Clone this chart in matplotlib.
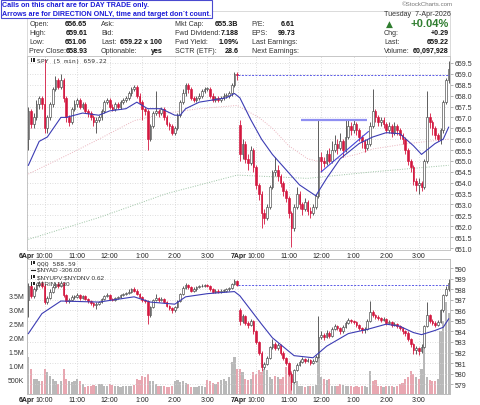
"""StockCharts-style intraday chart: SPY and QQQ 5-minute bars, 6-7 Apr."""
import matplotlib

matplotlib.use("Agg")
import matplotlib.pyplot as plt
import numpy as np
from matplotlib.patches import Rectangle

W, H = 480, 406
RED = "#d3173f"
MA_BLUE = "#3c3cb4"
GRID = "#d2d2d2"

# ---- SPY 5-min bars (index 0-77 = 6 Apr, 78-155 = 7 Apr) ----
spy_open = [
    656.0, 657.3, 656.7, 657.0, 657.6, 657.9, 657.6, 656.5, 657.0, 657.6, 658.3, 658.7, 658.4,
    658.7, 657.9, 657.0, 656.8, 657.4, 657.6, 657.8, 657.5, 657.6, 657.3, 657.2, 657.0, 656.8,
    656.9, 657.0, 657.3, 657.7, 657.8, 657.5, 657.4, 657.6, 657.5, 657.7, 657.8, 657.9, 658.1,
    658.3, 658.4, 658.0, 657.7, 657.4, 657.3, 656.0, 656.6, 657.2, 657.3, 657.2, 657.4, 657.0,
    656.7, 656.6, 656.3, 656.5, 657.1, 657.7, 658.1, 658.5, 658.3, 657.9, 657.8, 657.9, 658.0,
    658.2, 658.3, 658.3, 658.0, 657.8, 657.9, 657.8, 657.9, 658.0, 658.0, 658.1, 658.5, 659.0,
    656.65, 655.3, 655.8, 655.1, 654.9, 655.5, 654.7, 653.9, 653.5, 652.6, 652.4, 652.9, 653.8,
    654.5, 654.6, 654.3, 654.0, 653.6, 653.3, 652.6, 651.9, 652.9, 653.5, 653.0, 652.8, 653.1,
    652.7, 652.6, 652.9, 653.4, 655.2, 655.0, 654.9, 655.3, 655.0, 655.5, 655.8, 655.6, 655.9,
    655.5, 656.1, 656.6, 656.4, 656.7, 656.4, 656.1, 655.9, 655.6, 655.8, 656.6, 657.3, 657.0,
    656.8, 656.9, 656.7, 656.4, 656.6, 656.3, 656.6, 656.4, 656.2, 656.0, 655.5, 655.0, 654.7,
    654.1, 653.9, 654.0, 653.8, 655.0, 657.0, 656.8, 656.5, 656.2, 656.0, 656.4, 657.7, 658.7,
]
spy_high = [
    657.5, 657.4, 657.2, 657.8, 658.0, 658.0, 659.7, 657.1, 657.7, 658.4, 658.9, 658.8, 659.0,
    658.8, 658.0, 657.1, 657.5, 657.8, 657.9, 657.9, 657.7, 657.7, 657.4, 657.3, 657.1, 657.0,
    657.1, 657.4, 657.8, 657.9, 657.9, 657.6, 657.7, 657.7, 657.8, 657.9, 658.0, 658.2, 658.4,
    658.5, 658.5, 658.1, 657.8, 657.5, 657.4, 656.7, 657.3, 658.2, 657.4, 657.5, 657.5, 657.1,
    656.8, 656.7, 656.6, 657.2, 657.8, 658.3, 658.6, 658.6, 658.4, 658.0, 658.0, 658.1, 658.3,
    658.4, 658.4, 658.4, 658.1, 658.0, 658.0, 658.0, 658.1, 658.1, 658.2, 658.6, 659.1, 659.1,
    656.9, 656.0, 655.9, 655.3, 655.7, 655.6, 654.8, 654.0, 653.6, 652.8, 653.0, 653.9, 654.6,
    655.2, 654.8, 654.4, 654.1, 653.7, 653.4, 652.7, 653.0, 653.8, 653.6, 653.1, 653.3, 653.2,
    652.9, 653.0, 653.5, 656.9, 655.4, 655.2, 655.5, 655.6, 655.9, 656.2, 656.0, 656.3, 656.0,
    656.9, 656.9, 656.8, 656.9, 656.8, 656.5, 656.2, 656.0, 656.0, 656.8, 658.3, 657.4, 657.1,
    657.0, 657.0, 656.8, 656.8, 656.7, 656.8, 656.7, 656.5, 656.3, 656.1, 655.6, 655.1, 654.8,
    654.2, 654.2, 654.1, 655.1, 658.2, 657.2, 656.9, 656.6, 656.3, 656.5, 657.8, 658.8, 659.61,
]
spy_low = [
    655.5, 656.5, 656.5, 656.9, 657.4, 657.4, 656.3, 656.3, 656.9, 657.5, 658.2, 658.3, 658.3,
    657.7, 656.8, 656.6, 656.7, 657.3, 657.5, 657.4, 657.4, 657.2, 657.0, 656.9, 656.6, 656.3,
    656.8, 656.9, 657.2, 657.6, 657.4, 657.3, 657.3, 657.4, 657.4, 657.6, 657.7, 657.8, 658.0,
    658.2, 657.9, 657.6, 656.9, 657.1, 655.5, 655.9, 656.5, 657.1, 657.0, 657.1, 656.9, 656.6,
    656.4, 656.2, 656.2, 656.4, 657.0, 657.6, 658.0, 658.1, 657.8, 657.7, 657.7, 657.8, 657.9,
    658.1, 658.2, 657.9, 657.7, 657.7, 657.7, 657.7, 657.8, 657.9, 657.9, 658.0, 658.4, 658.7,
    655.0, 655.1, 654.9, 654.6, 654.8, 654.5, 653.7, 653.2, 651.9, 652.1, 652.3, 652.8, 653.7,
    654.3, 654.1, 653.8, 653.4, 653.1, 652.4, 651.06, 651.8, 652.8, 652.8, 652.5, 652.7, 652.5,
    652.4, 652.5, 652.8, 653.3, 654.5, 654.7, 654.8, 654.9, 654.9, 655.4, 655.3, 655.5, 655.2,
    655.4, 656.0, 656.2, 656.3, 656.2, 655.9, 655.6, 655.4, 655.5, 655.7, 656.5, 656.8, 656.6,
    656.6, 656.5, 656.3, 656.3, 656.1, 656.2, 656.2, 656.0, 655.8, 655.3, 654.8, 654.5, 653.9,
    653.6, 653.5, 653.6, 653.7, 654.9, 656.5, 656.2, 656.0, 655.9, 655.8, 656.3, 657.6, 658.6,
]
spy_close = [
    657.3, 656.7, 657.0, 657.6, 657.9, 657.6, 656.5, 657.0, 657.6, 658.3, 658.7, 658.4, 658.7,
    657.9, 657.0, 656.8, 657.4, 657.6, 657.8, 657.5, 657.6, 657.3, 657.2, 657.0, 656.8, 656.9,
    657.0, 657.3, 657.7, 657.8, 657.5, 657.4, 657.6, 657.5, 657.7, 657.8, 657.9, 658.1, 658.3,
    658.4, 658.0, 657.7, 657.4, 657.3, 656.0, 656.6, 657.2, 657.3, 657.2, 657.4, 657.0, 656.7,
    656.6, 656.3, 656.5, 657.1, 657.7, 658.1, 658.5, 658.3, 657.9, 657.8, 657.9, 658.0, 658.2,
    658.3, 658.3, 658.0, 657.8, 657.9, 657.8, 657.9, 658.0, 658.0, 658.1, 658.5, 659.0, 658.93,
    655.3, 655.8, 655.1, 654.9, 655.5, 654.7, 653.9, 653.5, 652.6, 652.4, 652.9, 653.8, 654.5,
    654.6, 654.3, 654.0, 653.6, 653.3, 652.6, 651.9, 652.9, 653.5, 653.0, 652.8, 653.1, 652.7,
    652.6, 652.9, 653.4, 655.2, 655.0, 654.9, 655.3, 655.0, 655.5, 655.8, 655.6, 655.9, 655.5,
    656.1, 656.6, 656.4, 656.7, 656.4, 656.1, 655.9, 655.6, 655.8, 656.6, 657.3, 657.0, 656.8,
    656.9, 656.7, 656.4, 656.6, 656.3, 656.6, 656.4, 656.2, 656.0, 655.5, 655.0, 654.7, 654.1,
    653.9, 654.0, 653.8, 655.0, 657.0, 656.8, 656.5, 656.2, 656.0, 656.4, 657.7, 658.7, 659.22,
]
# overlays at a few bars
spy_ma_idx = [0, 4, 7, 12, 14, 20, 26, 30, 36, 40, 44, 49, 54, 56, 58, 63, 68, 73, 76,
              78, 82, 86, 90, 95, 100, 106, 110, 115, 122, 127, 132, 137, 142, 145, 150, 153, 155]
spy_ma = [654.8, 655.9, 656.1, 657.0, 657.0, 657.2, 657.1, 657.3, 657.4, 657.7, 657.4, 657.4,
          657.1, 657.1, 657.4, 657.7, 657.8, 657.9, 658.1,
          657.9, 656.9, 656.0, 655.3, 654.6, 653.9, 653.4, 654.2, 655.1, 655.8, 656.1, 656.3,
          656.25, 655.7, 655.3, 655.8, 656.0, 656.55]
spy_ma2_idx = [0, 14, 26, 39, 51, 63, 77, 85, 90, 96, 103, 108, 112, 121, 127, 140, 155]
spy_ma2 = [654.4, 655.25, 656.0, 656.85, 657.2, 657.4, 657.55, 657.0, 656.5, 655.7, 655.1,
           654.95, 655.05, 655.3, 655.55, 655.8, 656.0]
spy_ma3_idx = [0, 26, 51, 77, 103, 127, 155]
spy_ma3 = [651.4, 652.4, 653.5, 654.35, 654.2, 654.5, 654.8]
spy_prev_close = 658.93
resist_x, resist_y = [100.6, 125.0], [656.9, 656.9]
trend_x, trend_y = [108.0, 125.4], [654.5, 656.35]

# ---- QQQ 5-min bars + volume (millions) ----
qqq_open = [
    587.0, 588.3, 587.4, 588.0, 588.4, 588.6, 588.3, 586.8, 587.2, 587.8, 588.2, 588.5, 588.3,
    588.6, 587.5, 586.9, 587.0, 587.3, 587.3, 587.5, 587.2, 587.4, 587.1, 586.9, 586.7, 586.5,
    586.6, 586.8, 587.1, 587.4, 587.5, 587.1, 587.0, 587.2, 587.3, 587.5, 587.6, 587.7, 587.8,
    588.0, 587.9, 587.6, 587.3, 587.0, 586.9, 585.6, 586.3, 587.0, 587.2, 587.0, 587.1, 586.8,
    586.4, 586.2, 586.0, 586.3, 586.9, 587.6, 588.1, 588.4, 588.2, 587.9, 588.0, 588.2, 588.3,
    588.3, 588.4, 588.3, 588.0, 587.8, 587.9, 587.8, 587.9, 587.9, 588.0, 588.1, 588.5, 588.8,
    586.0, 585.0, 585.5, 584.8, 584.6, 585.0, 584.0, 583.0, 582.0, 580.6, 580.9, 581.5, 582.5,
    582.8, 582.4, 582.7, 582.0, 581.5, 581.0, 580.0, 579.2, 580.3, 580.8, 581.1, 581.4, 581.2,
    581.3, 581.0, 581.2, 581.6, 583.5, 583.7, 583.5, 583.9, 583.6, 584.2, 584.5, 584.3, 584.0,
    584.4, 584.8, 585.1, 585.0, 584.9, 584.6, 584.3, 584.1, 584.2, 585.0, 585.9, 585.6, 585.4,
    585.3, 585.1, 585.2, 584.8, 584.9, 584.6, 584.7, 584.5, 584.3, 584.0, 583.9, 583.3, 582.8,
    582.2, 582.4, 582.1, 582.5, 584.5, 585.6, 585.0, 584.8, 584.6, 584.9, 586.0, 587.5, 588.0,
]
qqq_high = [
    588.6, 588.5, 588.2, 588.6, 588.8, 588.8, 588.5, 587.4, 588.0, 588.4, 588.7, 588.7, 588.8,
    588.7, 587.6, 587.2, 587.5, 587.5, 587.7, 587.6, 587.5, 587.5, 587.2, 587.0, 586.8, 586.8,
    586.9, 587.2, 587.5, 587.7, 587.6, 587.2, 587.3, 587.4, 587.6, 587.7, 587.8, 588.0, 588.1,
    588.2, 588.0, 587.7, 587.4, 587.1, 587.0, 586.4, 587.1, 587.6, 587.3, 587.3, 587.2, 586.9,
    586.5, 586.3, 586.4, 587.0, 587.7, 588.3, 588.6, 588.5, 588.3, 588.2, 588.3, 588.4, 588.5,
    588.5, 588.5, 588.4, 588.1, 588.0, 588.0, 588.0, 588.0, 588.1, 588.2, 588.6, 589.0, 588.9,
    586.2, 585.7, 585.6, 585.0, 585.2, 585.1, 584.1, 583.1, 582.1, 581.1, 581.7, 582.6, 583.3,
    583.0, 582.9, 582.8, 582.1, 581.6, 581.1, 580.1, 580.4, 581.0, 581.3, 581.6, 581.5, 581.5,
    581.4, 581.4, 581.8, 585.5, 584.0, 583.9, 584.1, 584.0, 584.4, 584.7, 584.6, 584.4, 584.6,
    585.0, 585.3, 585.2, 585.1, 585.0, 584.7, 584.4, 584.4, 585.2, 586.9, 586.0, 585.7, 585.6,
    585.4, 585.4, 585.3, 585.1, 585.0, 584.9, 584.8, 584.6, 584.4, 584.1, 584.0, 583.4, 582.9,
    582.6, 582.5, 582.8, 584.6, 586.8, 585.7, 585.2, 585.0, 585.1, 586.1, 587.6, 588.3, 589.0,
]
qqq_low = [
    585.4, 587.2, 587.2, 587.9, 588.2, 588.1, 586.6, 586.6, 587.1, 587.7, 588.1, 588.1, 588.2,
    587.3, 586.7, 586.7, 586.9, 587.1, 587.2, 587.0, 587.1, 587.0, 586.7, 586.5, 586.3, 586.1,
    586.5, 586.7, 587.0, 587.3, 587.0, 586.9, 586.9, 587.1, 587.2, 587.4, 587.5, 587.6, 587.7,
    587.8, 587.5, 587.2, 586.8, 586.7, 584.7, 585.4, 586.2, 586.9, 586.8, 586.9, 586.7, 586.3,
    586.0, 585.8, 585.9, 586.2, 586.8, 587.5, 588.0, 588.0, 587.8, 587.8, 587.9, 588.1, 588.2,
    588.2, 588.2, 587.9, 587.7, 587.7, 587.7, 587.7, 587.8, 587.8, 587.9, 588.0, 588.4, 588.3,
    584.6, 584.8, 584.6, 584.3, 584.5, 583.8, 582.8, 581.8, 580.2, 580.4, 580.8, 581.4, 582.3,
    582.2, 582.2, 581.8, 581.3, 580.8, 579.8, 578.4, 579.1, 580.2, 580.7, 581.0, 581.0, 581.1,
    580.8, 580.9, 581.1, 581.5, 583.3, 583.2, 583.4, 583.4, 583.5, 584.1, 584.1, 583.8, 583.9,
    584.3, 584.7, 584.8, 584.7, 584.4, 584.1, 583.9, 583.9, 584.1, 584.9, 585.4, 585.2, 585.1,
    584.9, 585.0, 584.6, 584.7, 584.4, 584.5, 584.3, 584.1, 583.8, 583.6, 583.1, 582.5, 581.9,
    581.9, 581.8, 582.0, 582.4, 584.4, 584.8, 584.6, 584.4, 584.5, 584.8, 585.9, 587.4, 587.9,
]
qqq_close = [
    588.3, 587.4, 588.0, 588.4, 588.6, 588.3, 586.8, 587.2, 587.8, 588.2, 588.5, 588.3, 588.6,
    587.5, 586.9, 587.0, 587.3, 587.3, 587.5, 587.2, 587.4, 587.1, 586.9, 586.7, 586.5, 586.6,
    586.8, 587.1, 587.4, 587.5, 587.1, 587.0, 587.2, 587.3, 587.5, 587.6, 587.7, 587.8, 588.0,
    587.9, 587.6, 587.3, 587.0, 586.9, 585.6, 586.3, 587.0, 587.2, 587.0, 587.1, 586.8, 586.4,
    586.2, 586.0, 586.3, 586.9, 587.6, 588.1, 588.4, 588.2, 587.9, 588.0, 588.2, 588.3, 588.3,
    588.4, 588.3, 588.0, 587.8, 587.9, 587.8, 587.9, 587.9, 588.0, 588.1, 588.5, 588.8, 588.46,
    585.0, 585.5, 584.8, 584.6, 585.0, 584.0, 583.0, 582.0, 580.6, 580.9, 581.5, 582.5, 582.8,
    582.4, 582.7, 582.0, 581.5, 581.0, 580.0, 579.2, 580.3, 580.8, 581.1, 581.4, 581.2, 581.3,
    581.0, 581.2, 581.6, 583.5, 583.7, 583.5, 583.9, 583.6, 584.2, 584.5, 584.3, 584.0, 584.4,
    584.8, 585.1, 585.0, 584.9, 584.6, 584.3, 584.1, 584.2, 585.0, 585.9, 585.6, 585.4, 585.3,
    585.1, 585.2, 584.8, 584.9, 584.6, 584.7, 584.5, 584.3, 584.0, 583.9, 583.3, 582.8, 582.2,
    582.4, 582.1, 582.5, 584.5, 585.6, 585.0, 584.8, 584.6, 584.9, 586.0, 587.5, 588.0, 588.59,
]
qqq_volume = [
    1.31, 0.89, 0.54, 0.54, 0.48, 0.48, 0.89, 0.77, 0.65, 0.54, 0.48, 0.36, 0.48,
    0.89, 0.54, 0.48, 0.42, 0.48, 0.54, 0.48, 0.36, 0.24, 0.30, 0.28, 0.32, 0.30,
    0.35, 0.36, 0.30, 0.28, 0.36, 0.32, 0.30, 0.28, 0.26, 0.30, 0.30, 0.27, 0.30,
    0.32, 0.55, 0.50, 0.65, 0.60, 0.71, 0.48, 0.48, 0.36, 0.30, 0.30, 0.28, 0.24,
    0.26, 0.30, 0.48, 0.50, 0.42, 0.48, 0.40, 0.36, 0.24, 0.26, 0.24, 0.28, 0.30,
    0.26, 0.50, 0.45, 0.40, 0.36, 0.42, 0.50, 0.55, 0.48, 0.60, 1.14, 1.31, 0.89,
    0.89, 0.77, 0.55, 0.50, 0.55, 0.80, 0.70, 0.85, 0.78, 0.89, 0.85, 0.60, 0.55,
    0.65, 0.60, 0.55, 0.60, 0.95, 1.00, 0.83, 0.55, 0.48, 0.30, 0.28, 0.25, 0.30,
    0.28, 0.30, 0.32, 1.31, 0.60, 0.55, 0.50, 0.55, 0.30, 0.28, 0.30, 0.35, 0.32,
    0.28, 0.30, 0.27, 0.25, 0.27, 0.25, 0.30, 0.28, 0.25, 0.83, 0.48, 0.50, 0.30,
    0.28, 0.25, 0.30, 0.28, 0.30, 0.25, 0.28, 0.36, 0.40, 0.55, 0.60, 0.83, 0.70,
    0.60, 0.55, 0.89, 1.79, 0.60, 0.50, 0.45, 0.48, 0.55, 2.26, 2.62, 3.27, 2.90,
]
qqq_ma_idx = [0, 5, 12, 26, 39, 45, 54, 58, 66, 76, 78, 86, 90, 98, 105, 110, 118, 125,
              132, 137, 142, 145, 150, 153, 155]
qqq_ma = [583.8, 585.7, 586.9, 586.8, 587.3, 586.8, 586.6, 587.3, 587.6, 587.8, 587.4, 584.7,
          583.4, 581.7, 581.5, 582.6, 583.8, 584.2, 584.7, 584.5, 583.9, 583.7, 584.1, 584.4,
          585.2]
qqq_prev_close = 588.46

xtick_pos = [-0.5, 6, 18, 30, 42, 54, 66, 77.5, 84, 96, 108, 120, 132, 144]
xtick_lab = ["6Apr", "10:00", "11:00", "12:00", "1:00", "2:00", "3:00",
             "7Apr", "10:00", "11:00", "12:00", "1:00", "2:00", "3:00"]
spy_ticks = [651.0 + 0.5 * k for k in range(18)]
qqq_ticks = list(range(579, 591))
vol_ticks = [0.5, 1.0, 1.5, 2.0, 2.5, 3.0, 3.5]
vol_labels = ["500K", "1.0M", "1.5M", "2.0M", "2.5M", "3.0M", "3.5M"]

col1 = [("Open:", "656.65"), ("High:", "659.61"), ("Low:", "651.06"), ("Prev Close:", "658.93")]
col2 = [("Ask:", ""), ("Bid:", ""), ("Last:", "659.22 x 100"), ("Optionable:", "yes")]
col3 = [("Mkt Cap:", "655.3B"), ("Fwd Dividend:", "7.188"), ("Fwd Yield:", "1.09%"),
        ("SCTR (ETF):", "28.6")]
col4 = [("P/E:", "6.61"), ("EPS:", "99.73"), ("Last Earnings:", ""), ("Next Earnings:", "")]
col5 = [("Chg:", "+0.29"), ("Last:", "659.22"), ("Volume:", "60,097,928")]


def put(fig, x, y, s, size=5.1, bold=False, color="#333333", ha="left", family=None):
    kw = {"family": family} if family else {}
    fig.text(x / W, 1 - y / H, s, fontsize=size, fontweight="bold" if bold else "normal",
             color=color, ha=ha, va="center", **kw)


def icon(fig, x, y):
    # tiny two-candle glyph used in front of the legend entries
    for dx, h in ((0, 4), (2.2, 3)):
        fig.add_artist(Rectangle(((x + dx) / W, 1 - (y + h / 2) / H), 1.3 / W, h / H,
                                 transform=fig.transFigure, color="#222222", lw=0))


def candles(ax, o, hi, lo, c, min_body):
    o, hi, lo, c = map(np.asarray, (o, hi, lo, c))
    idx = np.arange(len(c))
    up = c >= o
    for mask, face, edge in ((up, "white", "#444444"), (~up, RED, RED)):
        ax.vlines(idx[mask], lo[mask], hi[mask], color=edge, lw=0.6, zorder=3)
        body = np.maximum(np.abs(c - o)[mask], min_body)
        ax.bar(idx[mask], body, bottom=np.minimum(o, c)[mask], width=0.62,
               facecolor=face, edgecolor=edge, linewidth=0.45, zorder=4)


def style(ax, xlabels=True):
    ax.set_xlim(-0.5, 155.5)
    ax.set_xticks(xtick_pos)
    ax.set_xticklabels(xtick_lab if xlabels else [])
    for k in (0, 7):
        if xlabels:
            ax.get_xticklabels()[k].set_fontweight("bold")
    ax.tick_params(axis="x", length=0, pad=1.2, labelsize=5, labelcolor="#222222")
    for sp in ax.spines.values():
        sp.set_color("#bdbdbd")
        sp.set_linewidth(0.6)


def main() -> None:
    plt.rcParams["font.family"] = ["Liberation Sans", "DejaVu Sans"]
    fig = plt.figure(figsize=(W / 100, H / 100), dpi=100)

    # ---- top panel: SPY ----
    ax = fig.add_axes([27 / W, 1 - 251 / H, 423 / W, 194 / H])
    style(ax)
    ax.set_ylim(650.91, 659.82)
    ax.yaxis.tick_right()
    ax.set_yticks(spy_ticks)
    ax.set_yticklabels([f"{v:.1f}" for v in spy_ticks])
    ax.tick_params(axis="y", length=2, width=0.5, color="#999999", pad=1.5,
                   labelsize=5, labelcolor="#333333")
    ax.grid(True, color=GRID, linestyle=(0, (1, 2)), lw=0.6)
    ax.set_axisbelow(True)
    ax.plot(spy_ma3_idx, spy_ma3, color="#9cc3a4", lw=0.7, linestyle=(0, (1, 1.5)), zorder=2)
    ax.plot(spy_ma2_idx, spy_ma2, color="#eab3bd", lw=0.7, linestyle=(0, (1, 1.5)), zorder=2)
    candles(ax, spy_open, spy_high, spy_low, spy_close, 0.03)
    ax.plot(spy_ma_idx, spy_ma, color=MA_BLUE, lw=0.8, zorder=5)
    ax.hlines(spy_prev_close, 77.5, 155.5, colors="#5a5ae6", linestyles=(0, (2, 1.5)), lw=0.7,
              zorder=5)
    ax.plot(resist_x, resist_y, color="#8f8ff2", lw=1.6, zorder=6, solid_capstyle="butt")
    ax.plot(trend_x, trend_y, color="#4646dc", lw=0.8, zorder=6)

    # ---- bottom panel: QQQ + volume ----
    axv = fig.add_axes([27 / W, 1 - 395 / H, 423 / W, 135 / H])
    style(axv)
    axv.set_ylim(0, 135 / 28)
    axv.set_yticks(vol_ticks)
    axv.set_yticklabels(vol_labels)
    axv.tick_params(axis="y", length=0, pad=2, labelsize=5, labelcolor="#333333")
    axv.grid(True, axis="x", color=GRID, linestyle=(0, (1, 2)), lw=0.6)
    axv.set_axisbelow(True)
    vcol = ["#e8a7b1" if c < o else "#b9b9b9" for o, c in zip(qqq_open, qqq_close)]
    axv.bar(np.arange(len(qqq_volume)), qqq_volume, width=0.8, color=vcol, lw=0, zorder=2)

    axq = axv.twinx()
    axq.set_xlim(-0.5, 155.5)
    axq.set_ylim(578.05, 590.9)
    axq.set_yticks(qqq_ticks)
    axq.set_yticklabels([str(v) for v in qqq_ticks])
    axq.tick_params(axis="y", length=2, width=0.5, color="#999999", pad=1.5,
                    labelsize=5, labelcolor="#333333")
    axq.grid(True, axis="y", color=GRID, linestyle=(0, (1, 2)), lw=0.6)
    for sp in axq.spines.values():
        sp.set_color("#bdbdbd")
        sp.set_linewidth(0.6)
    candles(axq, qqq_open, qqq_high, qqq_low, qqq_close, 0.05)
    axq.plot(qqq_ma_idx, qqq_ma, color=MA_BLUE, lw=0.8, zorder=5)
    axq.hlines(qqq_prev_close, 77.5, 155.5, colors="#5a5ae6", linestyles=(0, (2, 1.5)),
               lw=0.7, zorder=5)

    # ---- legends inside the panels ----
    icon(fig, 31, 61)
    put(fig, 37, 61, "SPY (5 min) 659.22", size=4.6, family="DejaVu Sans Mono")
    icon(fig, 31, 263.5)
    put(fig, 37, 263.5, "QQQ 588.59", size=4.6, family="DejaVu Sans Mono")
    fig.add_artist(plt.Line2D([31 / W, 35 / W], [1 - 270.5 / H] * 2, color="#222222", lw=0.8))
    put(fig, 37, 270.5, "\\$NYAD -306.00", size=4.6)
    icon(fig, 31, 277.5)
    put(fig, 37, 277.5, "\\$NYUPV:\\$NYDNV 0.62", size=4.6)
    icon(fig, 31, 284.5)
    put(fig, 37, 284.5, "\\$TRIN 1.30", size=4.6)

    # ---- header block ----
    fig.add_artist(plt.Line2D([27 / W, 450 / W], [1 - 12 / H] * 2, color="#cccccc", lw=0.5))
    fig.add_artist(plt.Line2D([27 / W, 27 / W], [1 - 12 / H, 1 - 57 / H], color="#cccccc",
                              lw=0.5))
    fig.add_artist(plt.Line2D([450 / W, 450 / W], [1 - 12 / H, 1 - 57 / H], color="#cccccc",
                              lw=0.5))
    fig.add_artist(Rectangle((0.5 / W, 1 - 18.5 / H), 211.5 / W, 18 / H,
                             transform=fig.transFigure, facecolor="white",
                             edgecolor="#4a4ad0", lw=0.8, zorder=10))
    fig.text(2 / W, 1 - 5.5 / H, "Calls on this chart are for DAY TRADE only.",
             fontsize=5.1, fontweight="bold", color="#1c1cd8", va="center", zorder=11)
    fig.text(2 / W, 1 - 14 / H,
             "Arrows are for DIRECTION ONLY, time and target don`t count.",
             fontsize=5.1, fontweight="bold", color="#1c1cd8", va="center", zorder=11)
    put(fig, 453, 4, "\u00a9StockCharts.com", size=4.4, color="#777777", ha="right")

    row_y = [25, 33.7, 42.7, 51.7]
    for col, lx, rx in ((col1, 29.3, 87.3), (col2, 101, 162.3), (col3, 175, 238.5),
                        (col4, 251.7, 295)):
        for (lab, val), y in zip(col, row_y):
            put(fig, lx, y, lab)
            if val:
                put(fig, rx, y, val, bold=True, color="#111111", ha="right")
    put(fig, 384, 15, "Tuesday  7-Apr-2026")
    put(fig, 389.5, 24.5, "\u25b2", size=6.5, color="#2f7d2f", ha="center", family="DejaVu Sans")
    put(fig, 448.5, 24, "+0.04%", size=8, bold=True, color="#2f7d2f", ha="right")
    for (lab, val), y in zip(col5, row_y[1:]):
        put(fig, 384, y, lab)
        put(fig, 448.5, y, val, bold=True, color="#111111", ha="right")

    fig.savefig("out.png", dpi=100)
    plt.close(fig)


if __name__ == "__main__":
    main()
